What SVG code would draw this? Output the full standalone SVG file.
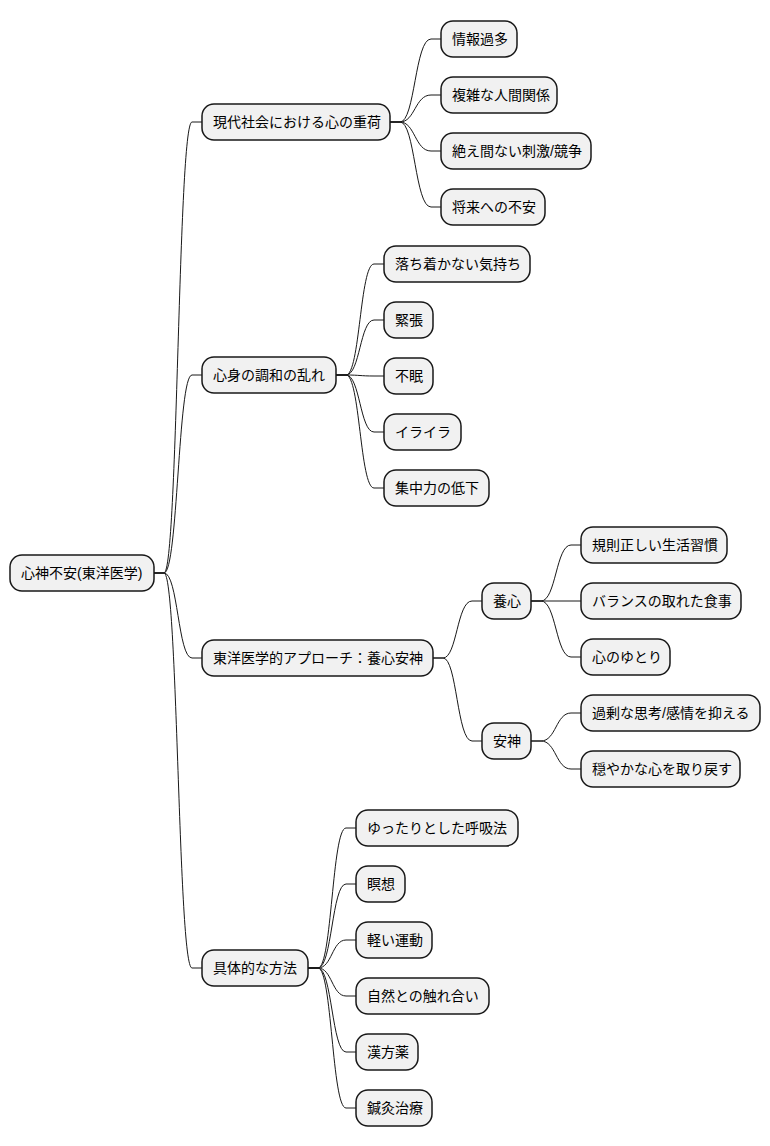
<svg xmlns="http://www.w3.org/2000/svg" width="770" height="1146" viewBox="0 0 770 1146">
<style>
.n rect{fill:#f1f1f1;stroke:#181818;stroke-width:1.5}
.n text{font-family:"Liberation Sans","Noto Sans CJK JP",sans-serif;font-size:14px;fill:#000}
#connectors path{fill:none;stroke:#181818;stroke-width:1}
</style>
<rect width="770" height="1146" fill="#fff"/>
<g id="connectors">
<path d="M154 573H164C178 573 178 122 192 122H202"/>
<path d="M154 573H164C178 573 178 375 192 375H202"/>
<path d="M154 573H164C178 573 178 658 192 658H202"/>
<path d="M154 573H164C178 573 178 968 192 968H202"/>
<path d="M390 122H400C415 122 415 39 431 39H441"/>
<path d="M390 122H400C415 122 415 95 431 95H441"/>
<path d="M390 122H400C415 122 415 151 431 151H441"/>
<path d="M390 122H400C415 122 415 207 431 207H441"/>
<path d="M336 375H346C360 375 360 264 374 264H384"/>
<path d="M336 375H346C360 375 360 320 374 320H384"/>
<path d="M336 375H346C360 375 360 376 374 376H384"/>
<path d="M336 375H346C360 375 360 432 374 432H384"/>
<path d="M336 375H346C360 375 360 488 374 488H384"/>
<path d="M433 658H443C457 658 457 601 472 601H482"/>
<path d="M433 658H443C457 658 457 741 472 741H482"/>
<path d="M531 601H541C556 601 556 545 571 545H581"/>
<path d="M531 601H581"/>
<path d="M531 601H541C556 601 556 657 571 657H581"/>
<path d="M531 741H541C556 741 556 713 571 713H581"/>
<path d="M531 741H541C556 741 556 769 571 769H581"/>
<path d="M308 968H318C332 968 332 828 346 828H356"/>
<path d="M308 968H318C332 968 332 884 346 884H356"/>
<path d="M308 968H318C332 968 332 940 346 940H356"/>
<path d="M308 968H318C332 968 332 996 346 996H356"/>
<path d="M308 968H318C332 968 332 1052 346 1052H356"/>
<path d="M308 968H318C332 968 332 1108 346 1108H356"/>
</g>
<g id="root" class="n"><rect x="10" y="555" width="144" height="36" rx="12"/><text x="21" y="578">心神不安(東洋医学)</text></g>
<g id="a" class="n"><rect x="202" y="104" width="188" height="36" rx="12"/><text x="213" y="127">現代社会における心の重荷</text></g>
<g id="a1" class="n"><rect x="441" y="21" width="76" height="36" rx="12"/><text x="452" y="44">情報過多</text></g>
<g id="a2" class="n"><rect x="441" y="77" width="116" height="36" rx="12"/><text x="452" y="100">複雑な人間関係</text></g>
<g id="a3" class="n"><rect x="441" y="133" width="150" height="36" rx="12"/><text x="452" y="156">絶え間ない刺激/競争</text></g>
<g id="a4" class="n"><rect x="441" y="189" width="104" height="36" rx="12"/><text x="452" y="212">将来への不安</text></g>
<g id="b" class="n"><rect x="202" y="357" width="134" height="36" rx="12"/><text x="213" y="380">心身の調和の乱れ</text></g>
<g id="b1" class="n"><rect x="384" y="246" width="146" height="36" rx="12"/><text x="395" y="269">落ち着かない気持ち</text></g>
<g id="b2" class="n"><rect x="384" y="302" width="49" height="36" rx="12"/><text x="395" y="325">緊張</text></g>
<g id="b3" class="n"><rect x="384" y="358" width="49" height="36" rx="12"/><text x="395" y="381">不眠</text></g>
<g id="b4" class="n"><rect x="384" y="414" width="77" height="36" rx="12"/><text x="395" y="437">イライラ</text></g>
<g id="b5" class="n"><rect x="384" y="470" width="105" height="36" rx="12"/><text x="395" y="493">集中力の低下</text></g>
<g id="c" class="n"><rect x="202" y="640" width="231" height="36" rx="12"/><text x="213" y="663">東洋医学的アプローチ：養心安神</text></g>
<g id="c1" class="n"><rect x="482" y="583" width="49" height="36" rx="12"/><text x="493" y="606">養心</text></g>
<g id="c1a" class="n"><rect x="581" y="527" width="146" height="36" rx="12"/><text x="592" y="550">規則正しい生活習慣</text></g>
<g id="c1b" class="n"><rect x="581" y="583" width="160" height="36" rx="12"/><text x="592" y="606">バランスの取れた食事</text></g>
<g id="c1c" class="n"><rect x="581" y="639" width="89" height="36" rx="12"/><text x="592" y="662">心のゆとり</text></g>
<g id="c2" class="n"><rect x="482" y="723" width="49" height="36" rx="12"/><text x="493" y="746">安神</text></g>
<g id="c2a" class="n"><rect x="581" y="695" width="179" height="36" rx="12"/><text x="592" y="718">過剰な思考/感情を抑える</text></g>
<g id="c2b" class="n"><rect x="581" y="751" width="159" height="36" rx="12"/><text x="592" y="774">穏やかな心を取り戻す</text></g>
<g id="d" class="n"><rect x="202" y="950" width="106" height="36" rx="12"/><text x="213" y="973">具体的な方法</text></g>
<g id="d1" class="n"><rect x="356" y="810" width="162" height="36" rx="12"/><text x="367" y="833">ゆったりとした呼吸法</text></g>
<g id="d2" class="n"><rect x="356" y="866" width="49" height="36" rx="12"/><text x="367" y="889">瞑想</text></g>
<g id="d3" class="n"><rect x="356" y="922" width="76" height="36" rx="12"/><text x="367" y="945">軽い運動</text></g>
<g id="d4" class="n"><rect x="356" y="978" width="133" height="36" rx="12"/><text x="367" y="1001">自然との触れ合い</text></g>
<g id="d5" class="n"><rect x="356" y="1034" width="62" height="36" rx="12"/><text x="367" y="1057">漢方薬</text></g>
<g id="d6" class="n"><rect x="356" y="1090" width="76" height="36" rx="12"/><text x="367" y="1113">鍼灸治療</text></g>
</svg>
